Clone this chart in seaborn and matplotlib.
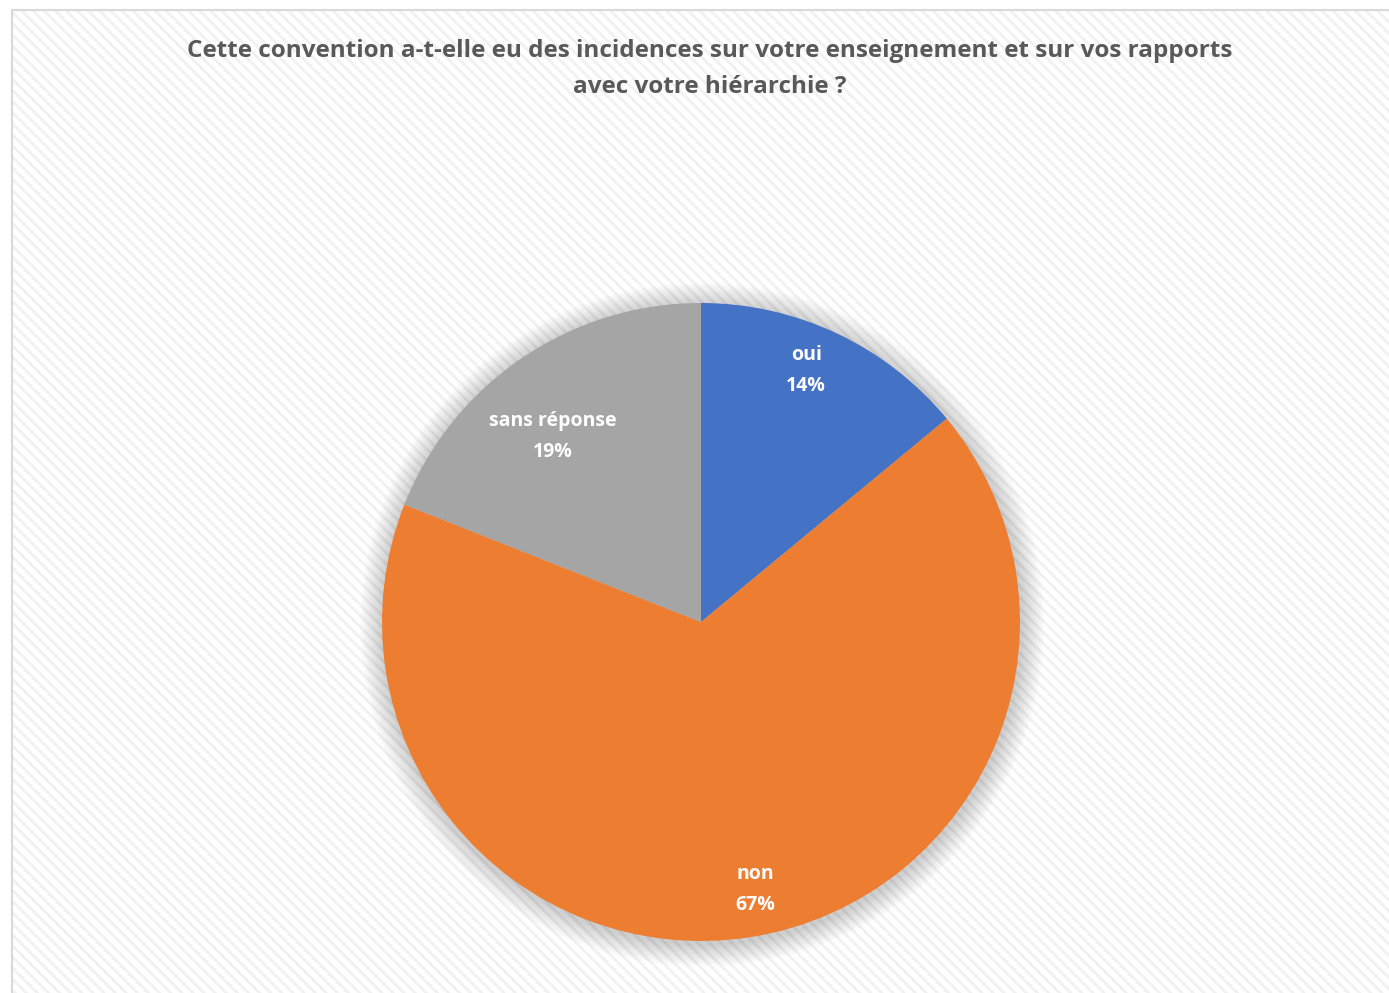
import numpy as np
import matplotlib
matplotlib.use("Agg")
import matplotlib.pyplot as plt
import seaborn as sns
from matplotlib.patches import Rectangle, Circle

# Data
categories = ["oui", "non", "sans réponse"]
values = [14, 67, 19]
colors = ["#4472C4", "#ED7D31", "#A5A5A5"]
title = ("Cette convention a-t-elle eu des incidences sur votre enseignement et sur vos rapports\n"
         "avec votre hiérarchie ?")

sns.set_theme(style="white")
plt.rcParams['font.family'] = ['Open Sans', 'DejaVu Sans']
plt.rcParams['hatch.linewidth'] = 2.0

W, H = 1389, 993
fig = plt.figure(figsize=(W / 100, H / 100), dpi=100)
fig.patch.set_facecolor("white")

# hatched chart-area background + border
bg = Rectangle((12 / W, 0), 1.0, 1 - 10 / H, transform=fig.transFigure,
               facecolor="white", edgecolor="#f1f1f1", hatch="\\\\\\", linewidth=0, zorder=-10)
fig.patches.append(bg)
border = Rectangle((12 / W, -0.01), 1.0, 1 - 10 / H + 0.01, transform=fig.transFigure,
                   facecolor="none", edgecolor="#d9d9d9", linewidth=1.5, zorder=-9)
fig.patches.append(border)

fig.text(709.5 / W, 1 - 69 / H, title, ha="center", va="center", fontsize=17.5,
         fontweight="bold", color="#595959", linespacing=1.72)

# pie axes: centre (701, 622) px, radius 319 px
cx, cy, r = 701 / W, 1 - 622 / H, 319
ax = fig.add_axes([cx - r / W, cy - r / H, 2 * r / W, 2 * r / H])
ax.patch.set_alpha(0)

# soft shadow around the pie
for i in range(12):
    ax.add_patch(Circle((0.004, -0.008), 1.0 + 0.006 * (i + 1), color="#000000",
                        alpha=0.015, linewidth=0, zorder=0, clip_on=False))

wedges, _ = ax.pie(values, colors=colors, startangle=90, counterclock=False,
                   wedgeprops=dict(linewidth=0), radius=1.0)
for w in wedges:
    w.set_zorder(2)

# label placement (radius fraction, angle shift in degrees), Excel "best fit" style
label_r = [0.855, 0.855, 0.745]
label_shift = [2.5, 2.5, 4.5]
for w, cat, v, lr, sh in zip(wedges, categories, values, label_r, label_shift):
    ang = np.deg2rad((w.theta1 + w.theta2) / 2 + sh)
    ax.text(lr * np.cos(ang), lr * np.sin(ang), f"{cat}\n{v}%", ha="center", va="center",
            fontsize=14, fontweight="bold", color="white", linespacing=1.7, zorder=3)

ax.set_xlim(-1, 1)
ax.set_ylim(-1, 1)
ax.set_aspect("equal")
ax.axis("off")

fig.savefig("out.png", dpi=100)
